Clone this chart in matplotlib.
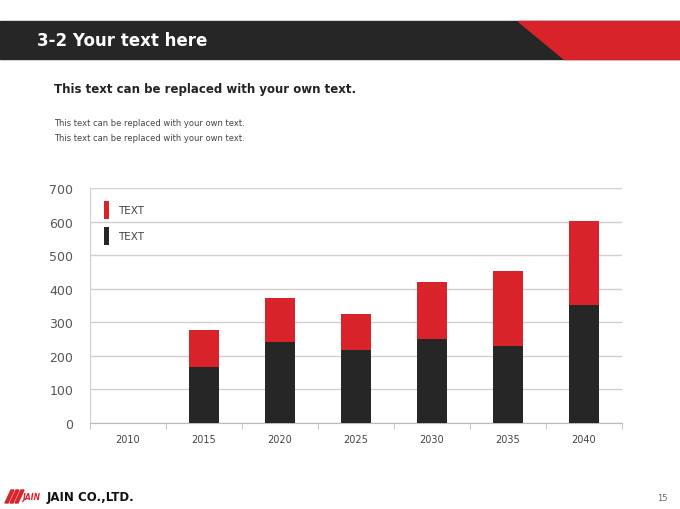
import matplotlib.pyplot as plt
from matplotlib.patches import Polygon, Rectangle

years = ["2010", "2015", "2020", "2025", "2030", "2035", "2040"]
black_vals = [0, 166, 242, 216, 250, 229, 352]
red_vals = [0, 112, 131, 109, 171, 225, 251]
legend_labels = ["TEXT", "TEXT"]

RED = "#d9232a"
DARK = "#262626"
GRID = "#d0d0d0"

fig = plt.figure(figsize=(6.8, 5.1), dpi=100)
W, H = 680, 510


def fx(px):
    return px / W


def fy(py):
    return 1 - py / H


# header band
fig.patches.append(Rectangle((0, fy(60)), 1, fy(22) - fy(60), transform=fig.transFigure,
                             color=DARK, zorder=0))
fig.patches.append(Polygon([(fx(518), fy(22)), (1, fy(22)), (1, fy(60)), (fx(564), fy(60))],
                           closed=True, transform=fig.transFigure, color=RED, zorder=1))
fig.text(fx(37), fy(41), "3-2 Your text here", color="white", fontsize=12,
         fontweight="bold", va="center", ha="left")

fig.text(fx(54), fy(90), "This text can be replaced with your own text.", color="#222222",
         fontsize=8.5, fontweight="bold", va="center", ha="left")
fig.text(fx(54), fy(124), "This text can be replaced with your own text.", color="#444444",
         fontsize=6, va="center", ha="left")
fig.text(fx(54), fy(139), "This text can be replaced with your own text.", color="#444444",
         fontsize=6, va="center", ha="left")

# chart
ax = fig.add_axes([fx(90), fy(424), fx(622) - fx(90), fy(189) - fy(424)])
x = range(len(years))
b1 = ax.bar(x, black_vals, width=0.4, color=DARK, zorder=3, label=legend_labels[1])
b2 = ax.bar(x, red_vals, width=0.4, bottom=black_vals, color=RED, zorder=3,
            label=legend_labels[0])

ax.set_ylim(0, 700)
ax.set_xlim(-0.5, len(years) - 0.5)
ax.set_yticks(range(0, 701, 100))
ax.yaxis.grid(True, color=GRID, linewidth=1, zorder=0)
ax.set_axisbelow(True)
for s in ["top", "right"]:
    ax.spines[s].set_visible(False)
ax.spines["left"].set_color(GRID)
ax.spines["bottom"].set_color("#bbbbbb")
ax.tick_params(axis="y", length=0, labelsize=9, labelcolor="#555555", pad=12)
ax.set_xticks(list(x))
ax.set_xticklabels(years)
ax.tick_params(axis="x", length=0, labelsize=7, labelcolor="#444444", pad=8)
ax.set_xticks([i - 0.5 for i in range(len(years) + 1)], minor=True)
ax.tick_params(axis="x", which="minor", length=4, color="#bbbbbb")

ax.legend([b2, b1], legend_labels, loc="upper left", bbox_to_anchor=(0.008, 0.985),
          frameon=False, handlelength=0.5, handleheight=2.3, handletextpad=0.9,
          labelspacing=0.75, fontsize=7.5, labelcolor="#444444")

# footer
for i in range(3):
    x0 = 5 + i * 5
    fig.patches.append(Polygon([(fx(x0 + 6), fy(491)), (fx(x0 + 9), fy(491)),
                                (fx(x0 + 3), fy(504)), (fx(x0), fy(504))],
                               closed=True, transform=fig.transFigure, color=RED))
fig.text(fx(22), fy(498), "JAIN", color=RED, fontsize=5.5, fontstyle="italic",
         fontweight="bold", va="center", ha="left")
fig.text(fx(47), fy(498), "JAIN CO.,LTD.", color="#111111", fontsize=8.5,
         fontweight="bold", va="center", ha="left")
fig.text(fx(668), fy(499), "15", color="#666666", fontsize=6, va="center", ha="right")

fig.savefig("out.png", dpi=100)
